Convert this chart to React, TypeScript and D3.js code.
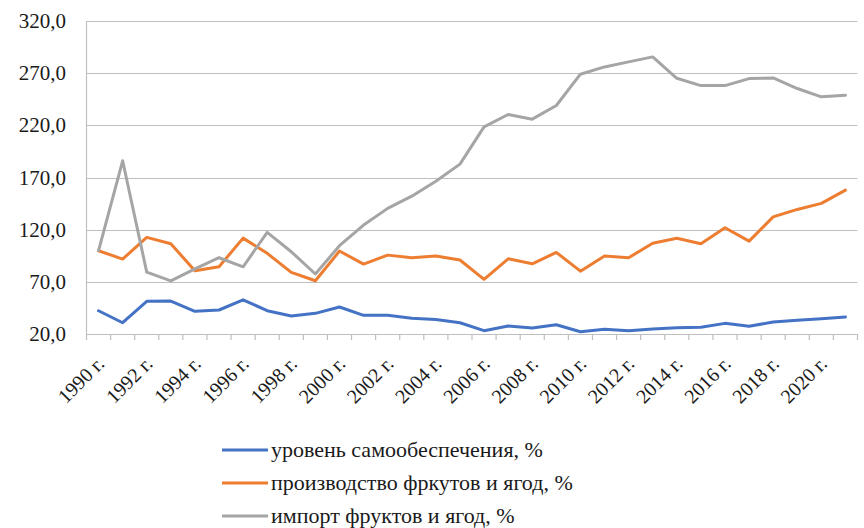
import React from "react";
import * as d3 from "d3";

const years: number[] = [
  1990, 1991, 1992, 1993, 1994, 1995, 1996, 1997, 1998, 1999, 2000, 2001, 2002,
  2003, 2004, 2005, 2006, 2007, 2008, 2009, 2010, 2011, 2012, 2013, 2014, 2015,
  2016, 2017, 2018, 2019, 2020, 2021,
];

// уровень самообеспечения, %
const selfSufficiency: number[] = [
  42.3, 30.8, 51.3, 51.6, 41.7, 43.0, 52.8, 42.3, 37.2, 39.8, 45.9, 37.9, 37.9,
  35.0, 33.8, 30.8, 23.2, 27.7, 25.7, 28.9, 22.2, 24.5, 23.2, 24.8, 26.0, 26.4,
  30.2, 27.4, 31.5, 33.1, 34.7, 36.3,
];

// производство фркутов и ягод, %
const production: number[] = [
  99.8, 91.8, 112.6, 106.5, 80.6, 84.4, 111.9, 97.3, 79.1, 71.0, 99.5, 87.0,
  95.6, 93.1, 94.7, 90.9, 72.4, 92.1, 87.3, 98.2, 80.2, 94.7, 93.1, 106.9,
  111.7, 106.5, 121.8, 109.0, 132.3, 139.4, 145.2, 157.9,
];

// импорт фруктов и ягод, %
const imports: number[] = [
  100.0, 186.0, 79.3, 71.0, 82.5, 93.1, 84.4, 117.4, 98.8, 77.5, 104.6, 124.4,
  140.4, 152.1, 166.5, 182.8, 218.5, 230.4, 225.9, 239.0, 269.0, 276.0, 280.8,
  285.6, 265.1, 258.1, 258.1, 264.8, 265.4, 255.3, 247.3, 248.9,
];

const yTicks: number[] = [20, 70, 120, 170, 220, 270, 320];
const xLabelYears: number[] = years.filter((y) => (y - 1990) % 2 === 0);

const seriesNames: string[] = [
  "уровень самообеспечения, %",
  "производство фркутов и ягод, %",
  "импорт фруктов и ягод, %",
];
const seriesColors: string[] = ["#4472C4", "#ED7D31", "#A5A5A5"];

const W = 864;
const H = 528;
const FONT =
  '"Times New Roman", Times, "Liberation Serif", "DejaVu Serif", serif';

export default function App() {
  const x = d3
    .scaleBand<number>()
    .domain(years)
    .range([86.5, 857.5]);
  const y = d3.scaleLinear().domain([20, 320]).range([334, 21]);

  const fmt = (v: number) => d3.format(".1f")(v).replace(".", ",");

  const line = d3
    .line<number>()
    .x((_, i) => (x(years[i]) as number) + x.bandwidth() / 2)
    .y((d) => y(d));

  const allSeries = [selfSufficiency, production, imports];
  const tickXs = years.map((yr) => x(yr) as number).concat([x.range()[1]]);
  const textStyle = { fontFamily: FONT };

  return (
    <svg
      width={W}
      height={H}
      style={{ position: "absolute", left: 0, top: 0, background: "#fff" }}
    >
      {/* grid */}
      <g>
        {yTicks.map((t) => (
          <line
            key={t}
            x1={x.range()[0]}
            x2={x.range()[1]}
            y1={Math.round(y(t)) + 0.5}
            y2={Math.round(y(t)) + 0.5}
            stroke="#BFBFBF"
            strokeWidth={1.2}
          />
        ))}
        <line
          x1={x.range()[0]}
          x2={x.range()[0]}
          y1={y(320)}
          y2={y(20)}
          stroke="#BFBFBF"
          strokeWidth={1.2}
        />
        {tickXs.map((tx, i) => (
          <line
            key={i}
            x1={tx}
            x2={tx}
            y1={y(20)}
            y2={y(20) + 6}
            stroke="#BFBFBF"
            strokeWidth={1.2}
          />
        ))}
      </g>

      {/* y labels */}
      <g fontSize={21} fill="#1a1a1a" textAnchor="end">
        {yTicks.map((t) => (
          <text key={t} x={66} y={y(t) + 7} style={textStyle}>
            {fmt(t)}
          </text>
        ))}
      </g>

      {/* x labels */}
      <g fontSize={20} fill="#1a1a1a" textAnchor="end">
        {xLabelYears.map((yr) => {
          const cx = (x(yr) as number) + x.bandwidth() / 2 + 7;
          const cy = 365;
          return (
            <text
              key={yr}
              transform={`translate(${cx},${cy}) rotate(-45)`}
              style={textStyle}
            >
              {`${yr} г.`}
            </text>
          );
        })}
      </g>

      {/* lines */}
      {allSeries.map((s, i) => (
        <path
          key={i}
          d={line(s) ?? ""}
          fill="none"
          stroke={seriesColors[i]}
          strokeWidth={3}
          strokeLinejoin="round"
          strokeLinecap="round"
        />
      ))}

      {/* legend */}
      <g fontSize={22} fill="#1a1a1a">
        {seriesNames.map((name, i) => {
          const ly = 450 + i * 33;
          return (
            <g key={name}>
              <line
                x1={222}
                x2={268}
                y1={ly}
                y2={ly}
                stroke={seriesColors[i]}
                strokeWidth={3}
              />
              <text x={271} y={ly + 7} style={textStyle}>
                {name}
              </text>
            </g>
          );
        })}
      </g>
    </svg>
  );
}
